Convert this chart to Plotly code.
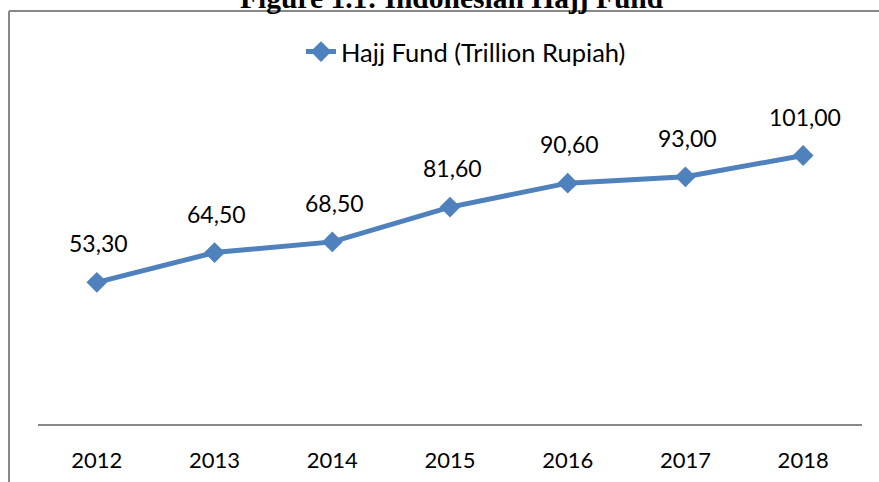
import plotly.graph_objects as go

years = [2012, 2013, 2014, 2015, 2016, 2017, 2018]
fund = [53.3, 64.5, 68.5, 81.6, 90.6, 93.0, 101.0]
labels = [f"{v:.2f}".replace(".", ",") for v in fund]

# body margin removed via post_script; layout computed in screen pixels
OFF = 0
W, H = 879, 482
L, R, T, B = 38 - OFF, W - (862 - OFF), 105 - OFF, H - (424 - OFF)
pw, ph = W - L - R, H - T - B

def px_x(p):
    return (p - OFF - L) / pw

def px_y(p):
    return (H - B - (p - OFF)) / ph

fig = go.Figure()
fig.add_trace(go.Scatter(
    x=years, y=fund, mode="lines+markers",
    name="Hajj Fund (Trillion Rupiah)",
    line=dict(color="#4F81BD", width=5),
    marker=dict(symbol="diamond", size=16, color="#4F81BD"),
    cliponaxis=False,
))

annotations = [dict(x=x, y=v, xref="x", yref="y", text=t, showarrow=False,
                    xanchor="center", yanchor="bottom", yshift=23, xshift=2,
                    font=dict(family="Lato", size=23, color="#000"))
               for x, v, t in zip(years, fund, labels)]
annotations.append(dict(text="<b>Figure 1.1: Indonesian Hajj Fund</b>", xref="paper", yref="paper",
                        x=px_x(452), y=px_y(-2), xanchor="center", yanchor="middle", showarrow=False,
                        font=dict(family="Liberation Serif", size=29.5, color="#000")))

border = dict(color="#888", width=2)
fig.update_layout(
    width=W, height=H, autosize=False,
    margin=dict(l=L, r=R, t=T, b=B, autoexpand=False),
    paper_bgcolor="white", plot_bgcolor="white",
    showlegend=True,
    legend=dict(orientation="h", x=px_x(466), y=px_y(52), xanchor="center", yanchor="middle",
                font=dict(family="Lato", size=25.5, color="#000"), bgcolor="rgba(0,0,0,0)"),
    xaxis=dict(range=[2011.5, 2018.5], tickvals=years, ticktext=[str(y) for y in years],
               automargin=False,
               showgrid=False, zeroline=False, showline=True, linecolor="#888", linewidth=2,
               ticks="outside", ticklen=16, tickcolor="rgba(0,0,0,0)",
               tickfont=dict(family="Lato", size=22, color="#000")),
    yaxis=dict(range=[0, 120], visible=False, showgrid=False, zeroline=False, automargin=False),
    shapes=[
        dict(type="line", xref="paper", yref="paper", x0=px_x(9), x1=px_x(900),
             y0=px_y(11), y1=px_y(11), line=border, layer="below"),
        dict(type="line", xref="paper", yref="paper", x0=px_x(9), x1=px_x(9),
             y0=px_y(11), y1=px_y(500), line=border, layer="below"),
    ],
    annotations=annotations,
)

fig.write_html("out.html", config={"displayModeBar": False},
               post_script="document.body.style.margin='0px';document.body.style.overflow='hidden';")
